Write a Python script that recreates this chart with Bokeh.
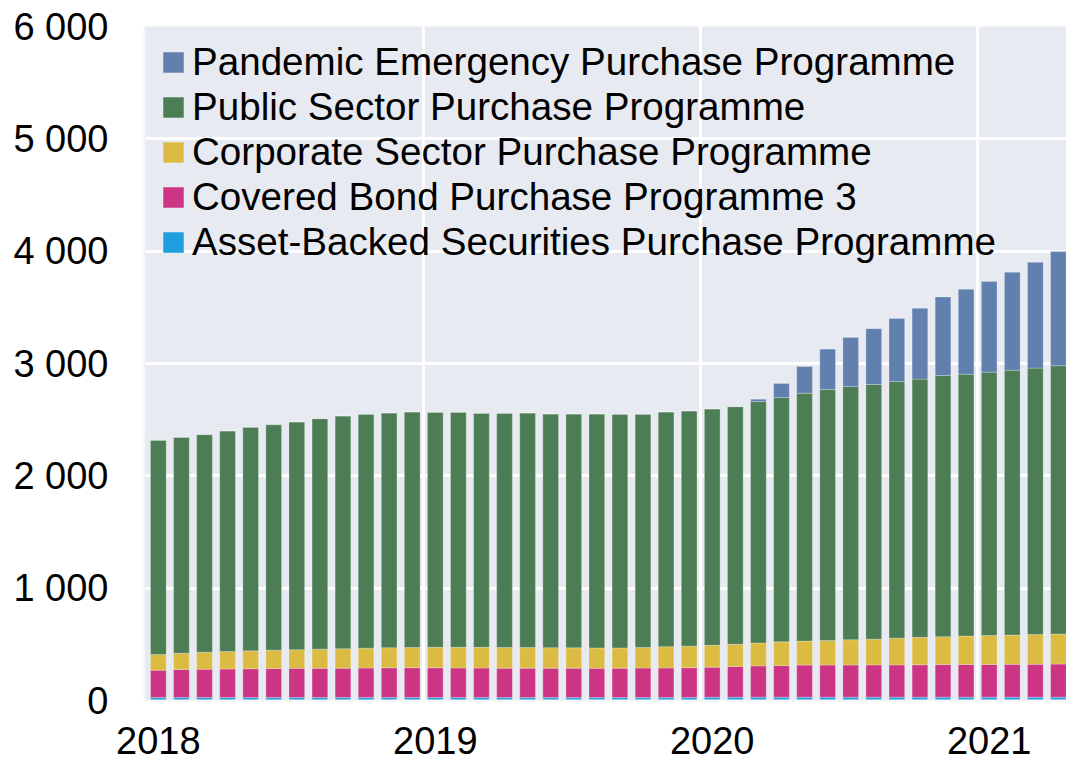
from bokeh.plotting import figure
from bokeh.models import ColumnDataSource, FixedTicker, Legend, LegendItem
from bokeh.embed import file_html
from bokeh.resources import INLINE

# Monthly end-of-month holdings (EUR billions), Jan 2018 - Apr 2021
months = [
    "2018-01", "2018-02", "2018-03", "2018-04", "2018-05", "2018-06",
    "2018-07", "2018-08", "2018-09", "2018-10", "2018-11", "2018-12",
    "2019-01", "2019-02", "2019-03", "2019-04", "2019-05", "2019-06",
    "2019-07", "2019-08", "2019-09", "2019-10", "2019-11", "2019-12",
    "2020-01", "2020-02", "2020-03", "2020-04", "2020-05", "2020-06",
    "2020-07", "2020-08", "2020-09", "2020-10", "2020-11", "2020-12",
    "2021-01", "2021-02", "2021-03", "2021-04",
]

abspp = [27, 27, 27, 27, 27, 27, 27, 27, 27, 27, 27, 27,
         27, 27, 27, 26, 26, 26, 26, 26, 26, 26, 26, 27,
         29, 29, 30, 30, 30, 30, 30, 30, 30, 30, 30, 30,
         30, 30, 30, 30]
cbpp3 = [243, 250, 252, 253, 256, 258, 259, 260, 261, 262, 264, 265,
         264, 263, 262, 262, 262, 262, 262, 261, 262, 263, 264, 265,
         268, 274, 278, 282, 285, 286, 286, 287, 287, 288, 290, 291,
         291, 292, 293, 294]
cspp = [140, 144, 151, 156, 159, 163, 166, 170, 173, 177, 179, 180,
        182, 183, 184, 184, 183, 182, 181, 181, 180, 183, 189, 192,
        194, 197, 204, 210, 214, 219, 225, 229, 238, 244, 248, 253,
        258, 261, 265, 268]
pspp = [1907, 1922, 1937, 1964, 1991, 2008, 2028, 2052, 2072, 2083, 2090, 2097,
        2093, 2093, 2084, 2085, 2089, 2081, 2082, 2083, 2081, 2077, 2090, 2094,
        2105, 2116, 2149, 2175, 2207, 2233, 2254, 2267, 2284, 2299, 2325, 2331,
        2344, 2358, 2371, 2388]
pepp = [0, 0, 0, 0, 0, 0, 0, 0, 0, 0, 0, 0,
        0, 0, 0, 0, 0, 0, 0, 0, 0, 0, 0, 0,
        0, 0, 21, 125, 237, 360, 437, 497, 562, 630, 699, 755,
        806, 871, 942, 1016]

series_keys = ["abspp", "cbpp3", "cspp", "pspp", "pepp"]
series_names = [
    "Asset-Backed Securities Purchase Programme",
    "Covered Bond Purchase Programme 3",
    "Corporate Sector Purchase Programme",
    "Public Sector Purchase Programme",
    "Pandemic Emergency Purchase Programme",
]
series_colors = ["#1F9FE0", "#CC3583", "#DBBB41", "#4D7D55", "#6180AE"]

year_labels = ["2018", "2019", "2020", "2021"]
y_ticks = [0, 1000, 2000, 3000, 4000, 5000, 6000]

x = list(range(len(months)))
src = ColumnDataSource(dict(x=x, abspp=abspp, cbpp3=cbpp3, cspp=cspp, pspp=pspp, pepp=pepp))

FONT = "Liberation Sans"

p = figure(width=1066, height=760, x_range=(-0.6, 39.35), y_range=(0, 6000),
           output_backend="svg", toolbar_location=None,
           min_border_left=144, min_border_right=0, min_border_top=26, min_border_bottom=60)
p.background_fill_color = "#E7EAF1"
p.border_fill_color = "white"
p.outline_line_color = None

renderers = p.vbar_stack(series_keys, x="x", width=0.68, color=series_colors, source=src,
                         line_color="white", line_alpha=0.25, line_width=1)

# grid
year_pos = [months.index(y + "-01") for y in year_labels]
p.xgrid.ticker = FixedTicker(ticks=[xp - 0.5 for xp in year_pos[1:]])
p.xgrid.grid_line_color = "white"
p.xgrid.grid_line_width = 3
p.ygrid.ticker = FixedTicker(ticks=y_ticks[1:])
p.ygrid.grid_line_color = "white"
p.ygrid.grid_line_width = 3

# axes
p.xaxis.ticker = FixedTicker(ticks=year_pos)
p.xaxis.major_label_overrides = {xp: lab for xp, lab in zip(year_pos, year_labels)}
p.yaxis.ticker = FixedTicker(ticks=y_ticks)
p.yaxis.major_label_overrides = {v: f"{v:,}".replace(",", " ") for v in y_ticks}
for ax in (p.xaxis[0], p.yaxis[0]):
    ax.major_tick_line_color = None
    ax.minor_tick_line_color = None
    ax.axis_line_color = "#F2F4F8"
    ax.axis_line_width = 2
    ax.major_label_text_font = FONT
    ax.major_label_text_font_size = "38px"
    ax.major_label_text_color = "black"
p.yaxis.major_label_standoff = 30
p.xaxis.major_label_standoff = 20
p.xaxis.major_label_text_line_height = 0.5

items = [LegendItem(label=n, renderers=[r]) for n, r in zip(series_names, renderers)][::-1]
legend = Legend(items=items, location=(16, 436), border_line_color=None,
                background_fill_alpha=0, label_text_font=FONT, label_text_font_size="38.6px",
                label_text_color="black", glyph_width=26, glyph_height=26, label_standoff=6,
                spacing=1, padding=0, margin=0, label_height=26)
p.add_layout(legend)

open("out.html", "w").write(file_html(p, INLINE))
